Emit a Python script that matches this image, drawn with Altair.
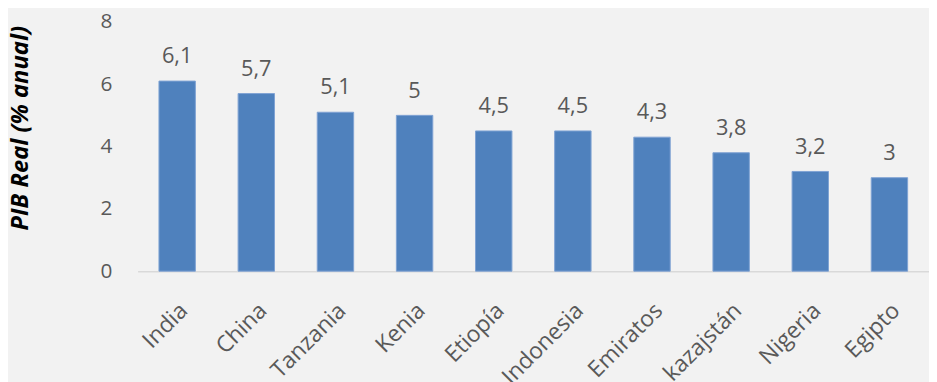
import altair as alt
import pandas as pd

countries = ["India", "China", "Tanzania", "Kenia", "Etiopía", "Indonesia",
             "Emiratos", "kazajstán", "Nigeria", "Egipto"]
values = [6.1, 5.7, 5.1, 5, 4.5, 4.5, 4.3, 3.8, 3.2, 3]
y_ticks = [0, 2, 4, 6, 8]

df = pd.DataFrame({"pais": countries, "pib": values})

FONT = "Open Sans"
GRAY = "#595959"

base = alt.Chart(df).transform_calculate(
    etiqueta="replace(toString(datum.pib), '.', ',')"
)

x = alt.X("pais:N", sort=countries, title=None,
          scale=alt.Scale(paddingInner=0.54, paddingOuter=0.27),
          axis=alt.Axis(labelAngle=-45, labelAlign="right", labelBaseline="middle",
                        labelOffset=7, labelPadding=36, ticks=False,
                        domainColor="#D9D9D9", domainWidth=1.5,
                        labelFontSize=23, labelColor=GRAY, labelFont=FONT))
y = alt.Y("pib:Q", scale=alt.Scale(domain=[0, 8], nice=False),
          axis=alt.Axis(values=y_ticks, grid=False, domain=False, ticks=False,
                        labelFontSize=21, labelColor=GRAY, labelFont=FONT,
                        labelPadding=26, title="PIB Real (% anual)",
                        titleFont=FONT, titleFontSize=24, titleFontWeight="bold",
                        titleFontStyle="italic", titleColor="#000000",
                        titleX=-106, titleY=107))

bars = base.mark_bar(color="#4F81BD", stroke="#7FA3D3", strokeWidth=1).encode(x=x, y=y)
labels = base.mark_text(dy=-18, baseline="alphabetic", fontSize=22, font=FONT,
                        color=GRAY).encode(x=x, y=y, text="etiqueta:N")

chart = (bars + labels).properties(
    width=800, height=252,
    autosize=alt.AutoSizeParams(type="none"),
    padding={"left": 131, "top": 12, "right": 0, "bottom": 110},
    background="#F2F2F2",
).configure_view(stroke=None)

chart.save("out.html", embed_options={"renderer": "svg", "actions": False})
